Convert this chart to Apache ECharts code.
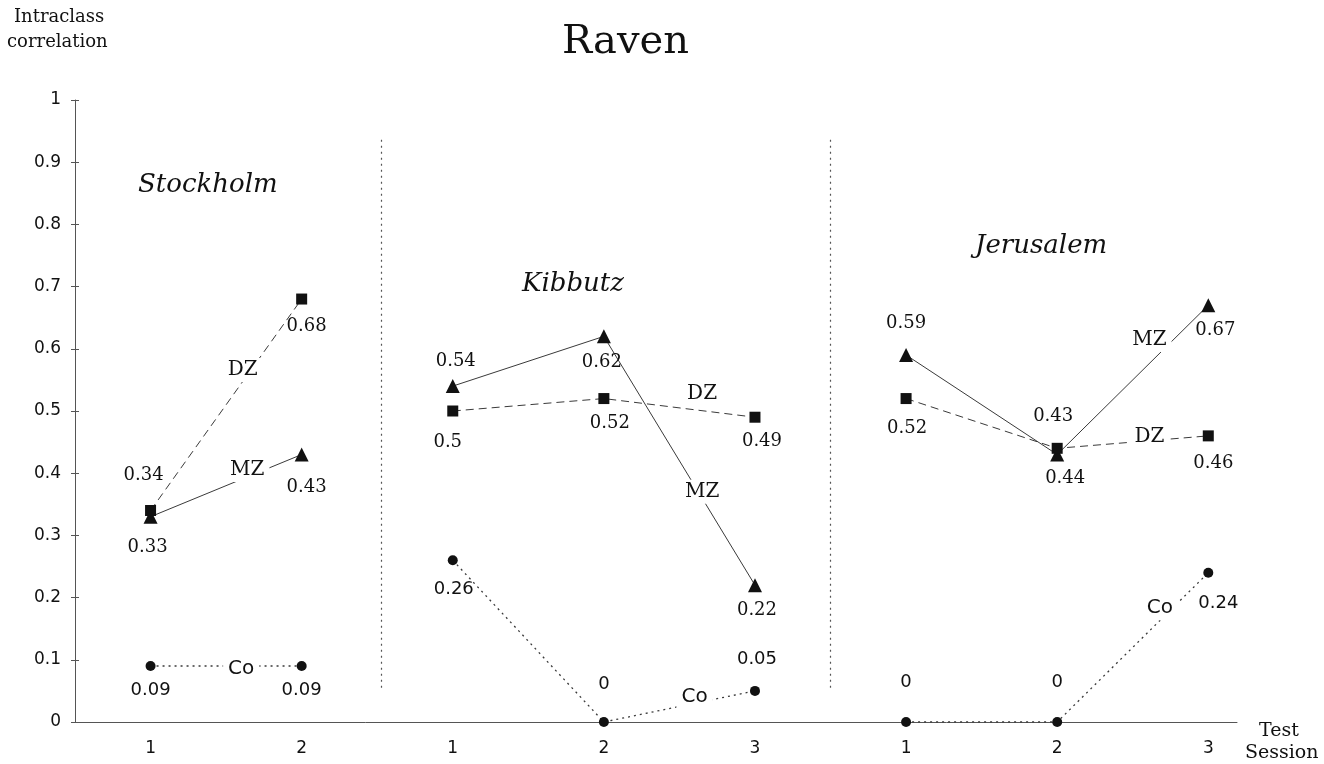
<!DOCTYPE html>
<html>
<head>
<meta charset="utf-8">
<script src="https://cdn.jsdelivr.net/npm/echarts@6/dist/echarts.min.js"></script>
<style>html,body{margin:0;padding:0;background:#fff;}#c{width:1324px;height:764px;}</style>
</head>
<body>
<div id="c"></div>
<script>
// ---- data ----
const sites = ['Stockholm', 'Kibbutz', 'Jerusalem'];
const sessionLabels = ['1', '2', '1', '2', '3', '1', '2', '3'];
const groupStart = [0, 2, 5];
const mzValues = [[0.33, 0.43], [0.54, 0.62, 0.22], [0.59, 0.43, 0.67]];
const dzValues = [[0.34, 0.68], [0.50, 0.52, 0.49], [0.52, 0.44, 0.46]];
const coValues = [[0.09, 0.09], [0.26, 0, 0.05], [0, 0, 0.24]];
const yTicks = [0, 0.1, 0.2, 0.3, 0.4, 0.5, 0.6, 0.7, 0.8, 0.9, 1];

// ---- label placement (pixel offsets from each point) ----
const mzOffsets = [[[-3, 31], [5, 33]], [[3, -25], [-2, 26], [2, 25]], [[0, -32], [-4, -38], [7, 25]]];
const dzOffsets = [[[-7, -35], [5, 27]], [[-5, 31], [6, 25], [7, 24]], [[1, 30], [8, 30], [5, 27]]];
const coOffsets = [[[0, 24], [0, 24]], [[1, 29], [0, -38], [2, -32]], [[0, -40], [0, -40], [10, 31]]];
// line-name tags, [session index position, value position]
const mzTags = [[0.64, 0.405], [3.65, 0.37], [6.61, 0.614]];
const dzTags = [[0.61, 0.566], [3.65, 0.527], [6.61, 0.458]];
const coTags = [[0.60, 0.085], [3.60, 0.04], [6.68, 0.183]];
const separators = [1.53, 4.5];
const sepRange = [0.055, 0.94];

const X = i => 2 * i + 1;
const SERIF = 'DejaVu Serif';
const SANS = 'DejaVu Sans';
const INK = '#111';
const LINE = '#3a3a3a';

const series = [];
function addLine(vals, offs, symbol, size, dash, width, fontFamily) {
  vals.forEach((arr, g) => {
    series.push({
      type: 'line',
      symbol: symbol,
      symbolSize: size,
      itemStyle: { color: INK, opacity: 1 },
      lineStyle: { color: LINE, width: width, type: dash },
      z: 2,
      animation: false,
      label: {
        show: true, position: 'inside', color: INK,
        fontFamily: fontFamily, fontSize: 18,
        formatter: p => String(p.value[1])
      },
      data: arr.map((v, i) => ({
        value: [X(groupStart[g] + i), v],
        label: { offset: offs[g][i] }
      }))
    });
  });
}
addLine(mzValues, mzOffsets, 'triangle', 14, 'solid', 1, SERIF);
addLine(dzValues, dzOffsets, 'rect', 11, [8, 5], 1, SERIF);
addLine(coValues, coOffsets, 'circle', 10, [2, 4], 1.3, SANS);

function addTags(tags, text, fontFamily) {
  series.push({
    type: 'scatter', symbolSize: 0, z: 5, silent: true, animation: false,
    itemStyle: { opacity: 1, color: INK },
    label: {
      show: true, position: 'inside', formatter: text, color: INK,
      fontFamily: fontFamily, fontSize: 20, opacity: 1,
      backgroundColor: '#fff', padding: [2, 5]
    },
    data: tags.map(t => [X(t[0]), t[1]])
  });
}
addTags(mzTags, 'MZ', SERIF);
addTags(dzTags, 'DZ', SERIF);
addTags(coTags, 'Co', SANS);

series.push({
  type: 'line', data: [], silent: true,
  markLine: {
    silent: true, symbol: 'none', label: { show: false }, animation: false,
    lineStyle: { color: '#555', type: [2, 4], width: 1.2 },
    data: separators.map(s => [{ coord: [X(s), sepRange[0]] }, { coord: [X(s), sepRange[1]] }])
  }
});

const option = {
  animation: false,
  backgroundColor: '#fff',
  title: {
    text: 'Raven', left: 557, top: 18,
    textStyle: { fontFamily: SERIF, fontSize: 40, fontWeight: 'normal', color: INK }
  },
  grid: { left: 75, right: 87, top: 100, bottom: 42, containLabel: false },
  xAxis: {
    type: 'value', min: 0, max: 15.38, interval: 1,
    axisLine: { show: true, lineStyle: { color: '#555', width: 1 } },
    axisTick: { show: false },
    splitLine: { show: false },
    axisLabel: {
      margin: 18, fontFamily: SANS, fontSize: 17, color: INK,
      formatter: v => (v % 2 === 1 ? sessionLabels[(v - 1) / 2] : ''),
      showMaxLabel: false
    }
  },
  yAxis: [{
    type: 'value', min: 0, max: 1, interval: 0.1,
    axisLine: { show: true, lineStyle: { color: '#555', width: 1 } },
    axisTick: { show: true, length: 4, lineStyle: { color: '#555' } },
    splitLine: { show: false },
    axisLabel: {
      margin: 14, fontFamily: SANS, fontSize: 17, color: INK,
      formatter: v => { const t = yTicks.find(k => Math.abs(k - v) < 1e-6); return t === undefined ? '' : String(t); }
    }
  }, {
    type: 'value', min: 0, max: 1, interval: 0.1, position: 'left', offset: 0,
    axisLine: { show: false },
    axisTick: { show: true, inside: true, length: 4, lineStyle: { color: '#555' } },
    axisLabel: { show: false }, splitLine: { show: false }
  }],
  graphic: [
    { type: 'text', left: 14, top: 8, style: { text: 'Intraclass', fontFamily: SERIF, fontSize: 18, fill: INK } },
    { type: 'text', left: 7, top: 33, style: { text: 'correlation', fontFamily: SERIF, fontSize: 18, fill: INK } },
    { type: 'text', left: 1259, top: 722, style: { text: 'Test', fontFamily: SERIF, fontSize: 19, fill: INK } },
    { type: 'text', left: 1245, top: 744, style: { text: 'Session', fontFamily: SERIF, fontSize: 19, fill: INK } },
    { type: 'text', left: 138, top: 172, style: { text: sites[0], fontFamily: SERIF, fontStyle: 'italic', fontSize: 26, fill: INK } },
    { type: 'text', left: 522, top: 271, style: { text: sites[1], fontFamily: SERIF, fontStyle: 'italic', fontSize: 26, fill: INK } },
    { type: 'text', left: 975, top: 233, style: { text: sites[2], fontFamily: SERIF, fontStyle: 'italic', fontSize: 26, fill: INK } }
  ],
  series: series
};
option.series.forEach(s => { s.yAxisIndex = 0; });
const chart = echarts.init(document.getElementById('c'), null, { renderer: 'canvas' });
chart.setOption(option);
</script>
</body>
</html>
